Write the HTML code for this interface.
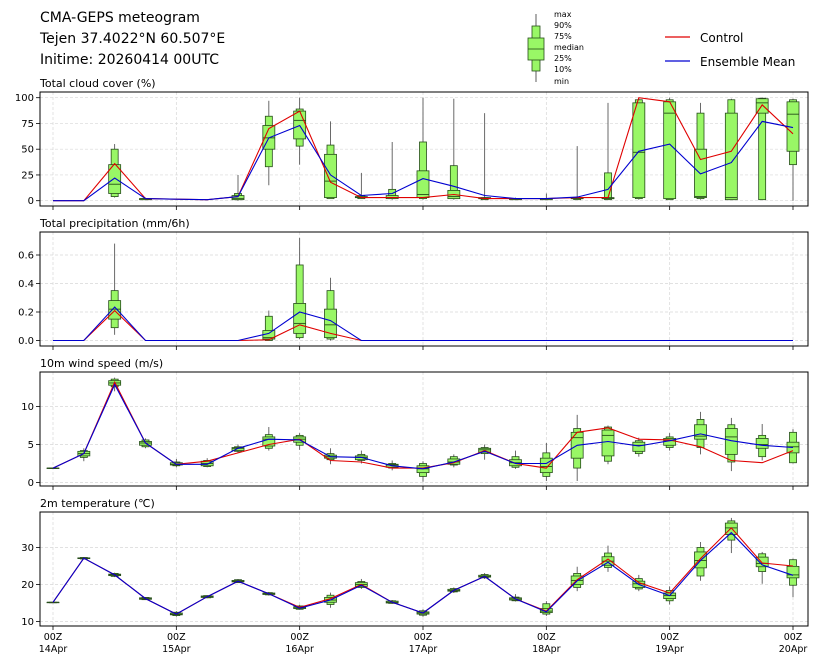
<!DOCTYPE html>
<html><head><meta charset="utf-8"><style>
body{margin:0;background:#fff;}
svg text{font-family:"DejaVu Sans","Liberation Sans",sans-serif;}
</style></head><body>
<svg id="chart" width="818" height="667" viewBox="0 0 818 667" xmlns="http://www.w3.org/2000/svg">
<text x="40" y="22" font-size="14">CMA-GEPS meteogram</text>
<text x="40" y="43" font-size="14">Tejen 37.4022°N 60.507°E</text>
<text x="40" y="64" font-size="14">Initime: 20260414 00UTC</text>
<g>
<line x1="536" y1="14" x2="536" y2="82" stroke="#333" stroke-width="0.8"/>
<rect x="532" y="26" width="8" height="45" fill="#99f766" stroke="#264d1a" stroke-width="0.8"/>
<rect x="528" y="38" width="16" height="22" fill="#99f766" stroke="#264d1a" stroke-width="0.8"/>
<line x1="528" y1="49" x2="544" y2="49" stroke="#264d1a" stroke-width="0.8"/>
<g font-size="8"><text x="554" y="17">max</text><text x="554" y="28">90%</text><text x="554" y="39">75%</text><text x="554" y="50">median</text><text x="554" y="61">25%</text><text x="554" y="72">10%</text><text x="554" y="84">min</text></g>
</g>
<g><line x1="665" y1="37" x2="690" y2="37" stroke="#e00000" stroke-width="1.2"/><text x="700" y="42" font-size="12">Control</text></g>
<g><line x1="665" y1="61" x2="690" y2="61" stroke="#0000d0" stroke-width="1.2"/><text x="700" y="66" font-size="12">Ensemble Mean</text></g>
<g id="panels"></g>
</svg>
<script>
const hours=[0,6,12,18,24,30,36,42,48,54,60,66,72,78,84,90,96,102,108,114,120,126,132,138,144];
const dayLabels=["14Apr","15Apr","16Apr","17Apr","18Apr","19Apr","20Apr"];
const cloudCtrl=[0,0,36,2,1.5,1,4,70,87,18,3,3,3,6,2,2,2,3,3,100,96,40,48,93,65];
const cloudMean=[0,0,22,2,1.5,1,4,61,73,25,5,7,21.5,14,5,2,2,3.5,11,48,55,26,37,77,71];
const cloudBoxes=[null,null,[3,4,7,16,35,50,55],[1,1,1,2,2,2,3],null,null,[0,1,1,2,5,7,25],[15,33,50,61,73,82,97],[35,53,60,78,87,89,100],[2,2,3,19,45,54,77],[2,2,3,3,4,5,27],[1,2,2,3,5,11,57],[1,2,3,6,29,57,100],[1,2,2,4,10,34,99],[1,1,2,2,3,3,85],[1,1,1,2,2,2,3],[1,1,1,2,2,2,7],[1,1,2,2,3,3,53],[1,1,2,2,3,27,95],[1,2,3,47,95,98,100],[1,1,2,85,96,98,100],[1,2,3,4,50,85,95],[1,1,1,3,85,98,99],[1,1,85,95,99,99.5,100],[0,35,48,84,96,98,99]];
const precCtrl=[0,0,0.21,0,0,0,0,0.005,0.11,0.05,0,0,0,0,0,0,0,0,0,0,0,0,0,0,0];
const precMean=[0,0,0.235,0,0,0,0,0.05,0.20,0.14,0,0,0,0,0,0,0,0,0,0,0,0,0,0,0];
const precBoxes=[null,null,[0.04,0.09,0.15,0.22,0.28,0.35,0.68],null,null,null,null,[0,0,0.01,0.02,0.07,0.17,0.21],[0.01,0.02,0.05,0.12,0.26,0.53,0.72],[0,0.01,0.02,0.11,0.22,0.35,0.44],null,null,null,null,null,null,null,null,null,null,null,null,null,null,null];
const windCtrl=[1.9,3.8,13.2,5.2,2.4,2.8,3.9,5.0,5.7,2.9,2.7,1.9,1.9,2.6,4.2,2.5,1.9,6.6,7.2,5.7,5.6,4.7,2.9,2.6,4.2];
const windMean=[1.9,3.8,12.9,5.2,2.4,2.4,4.5,5.7,5.6,3.4,3.3,2.2,1.8,2.7,4.1,2.5,2.5,4.9,5.4,4.8,5.5,6.4,5.5,4.9,4.6];
const windBoxes=[[1.9,1.9,1.9,1.9,1.9,1.9,1.9],[2.8,3.3,3.5,3.8,4.1,4.2,4.5],[12,12.6,12.8,13.1,13.4,13.6,13.8],[4.5,4.7,4.9,5.2,5.4,5.6,5.8],[2.0,2.2,2.3,2.4,2.6,2.7,3.1],[2.0,2.1,2.2,2.5,2.8,2.9,3.2],[3.9,4.1,4.2,4.5,4.6,4.7,5.0],[4.2,4.5,4.8,5.7,6.0,6.3,7.3],[4.3,4.9,5.3,5.7,6.0,6.2,6.5],[2.4,3.0,3.2,3.4,3.6,3.8,4.5],[2.5,2.9,3.0,3.3,3.5,3.7,4.2],[1.6,1.9,2.0,2.3,2.4,2.5,2.9],[0.1,0.8,1.3,1.8,2.2,2.5,2.8],[2.0,2.3,2.4,2.7,3.1,3.4,3.7],[3.0,3.8,4.0,4.3,4.5,4.6,5.0],[1.8,2.0,2.2,2.6,3.0,3.4,4.2],[0.2,0.8,1.3,2.1,3.2,3.9,5.2],[0.2,1.9,3.2,5.9,6.6,7.1,8.9],[2.4,2.8,3.5,6.2,6.9,7.3,7.5],[3.4,3.8,4.1,4.9,5.3,5.5,5.9],[4.2,4.6,4.9,5.5,5.8,6.0,6.5],[3.7,4.6,5.7,6.1,7.6,8.3,9.3],[1.5,2.7,3.7,6.0,7.1,7.6,8.5],[2.9,3.4,4.5,5.0,5.8,6.2,7.7],[2.5,2.6,3.9,4.7,5.3,6.6,7.0]];
const tempCtrl=[15.2,27.1,22.6,16.2,12.0,16.7,20.9,17.5,13.8,16.2,20.0,15.2,12.3,18.4,22.2,16.1,12.8,21.3,26.9,20.5,17.7,27.0,35.3,25.8,25.0];
const tempMean=[15.2,27.1,22.6,16.2,12.0,16.7,20.9,17.5,13.6,15.8,19.8,15.2,12.3,18.4,22.2,16.1,12.6,21.0,26.0,20.0,17.0,26.5,34.0,25.3,22.5];
const tempBoxes=[[15.2,15.2,15.2,15.2,15.2,15.2,15.2],[26.8,26.9,27.0,27.1,27.2,27.3,27.4],[22.0,22.2,22.4,22.6,22.8,23.0,23.2],[15.8,15.9,16.0,16.2,16.4,16.5,16.6],[11.3,11.6,11.8,12.0,12.3,12.5,12.8],[16.3,16.4,16.5,16.7,16.9,17.0,17.1],[20.4,20.5,20.7,20.9,21.1,21.3,21.5],[17.0,17.2,17.3,17.5,17.7,17.8,18.0],[13.2,13.3,13.5,13.7,14.0,14.2,14.5],[13.7,14.6,15.2,15.8,16.5,17.1,17.8],[18.8,19.2,19.5,20.0,20.5,20.8,21.5],[14.8,14.9,15.0,15.2,15.5,15.6,15.8],[11.3,11.7,12.0,12.3,12.6,12.9,13.3],[17.7,18.0,18.2,18.4,18.7,18.9,19.2],[21.5,21.8,22.0,22.2,22.5,22.7,23.1],[15.4,15.6,15.8,16.1,16.4,16.6,17.4],[11.5,12.0,12.4,12.8,13.5,14.8,15.5],[18.2,19.2,20.0,21.1,22.3,23.0,24.8],[23.4,24.6,25.2,26.3,27.5,28.5,30.5],[18.2,18.8,19.2,20.2,20.9,21.6,22.6],[14.6,15.6,16.2,17.0,17.7,18.4,19.5],[21.0,22.3,24.5,26.5,28.8,30.0,31.5],[28.5,32.0,33.5,35.3,36.6,37.2,38.0],[20.2,23.5,24.8,25.7,27.4,28.3,28.8],[16.6,19.8,21.8,22.6,24.9,26.7,27.0]];
const cloudTicks=[0,25,50,75,100];
const precTicks=[0.0,0.2,0.4,0.6];
const windTicks=[0,5,10];
const tempTicks=[10,20,30];

const NS="http://www.w3.org/2000/svg";
const root=document.getElementById('panels');
function mk(tag,attrs,parent){const e=document.createElementNS(NS,tag);for(const k in attrs)e.setAttribute(k,attrs[k]);(parent||root).appendChild(e);return e;}
const X0=40,X1=808;
function xs(h){return 53+h*(740/144);}
const panels=[
 {name:'cloud',title:'Total cloud cover (%)',top:92,bot:206,v0:0,p0:200.7,v1:100,p1:97.7,ticks:cloudTicks,fmt:v=>String(v),ctrl:cloudCtrl,mean:cloudMean,boxes:cloudBoxes},
 {name:'precip',title:'Total precipitation (mm/6h)',top:232,bot:346,v0:0,p0:340.5,v1:0.6,p1:255,ticks:precTicks,fmt:v=>v.toFixed(1),ctrl:precCtrl,mean:precMean,boxes:precBoxes},
 {name:'wind',title:'10m wind speed (m/s)',top:372,bot:486,v0:0,p0:482.5,v1:10,p1:406.5,ticks:windTicks,fmt:v=>String(v),ctrl:windCtrl,mean:windMean,boxes:windBoxes},
 {name:'temp',title:'2m temperature (℃)',top:512,bot:626,v0:10,p0:621.5,v1:30,p1:547.5,ticks:tempTicks,fmt:v=>String(v),ctrl:tempCtrl,mean:tempMean,boxes:tempBoxes}
];
panels.forEach((p,pi)=>{
 const g=mk('g',{});
 
 
 const ys=v=>p.p0+(v-p.v0)*(p.p1-p.p0)/(p.v1-p.v0);
 const t=mk('text',{x:40,y:p.top-5,'font-size':11},g);t.textContent=p.title;
 
 
 for(let d=0;d<7;d++){const x=xs(d*24);mk('line',{x1:x,x2:x,y1:p.top,y2:p.bot,stroke:'#d8d8d8','stroke-width':0.7,'stroke-dasharray':'3,2'},g);
  mk('line',{x1:x,x2:x,y1:p.bot,y2:p.bot+4,stroke:'#000','stroke-width':0.8},g);
  if(pi===3){const l1=mk('text',{x:x,y:640,'font-size':9.5,'text-anchor':'middle'},g);l1.textContent='00Z';
   
   
   const l2=mk('text',{x:x,y:652,'font-size':9.5,'text-anchor':'middle'},g);l2.textContent=dayLabels[d];}}
 p.ticks.forEach(v=>{const y=ys(v);mk('line',{x1:X0,x2:X1,y1:y,y2:y,stroke:'#d8d8d8','stroke-width':0.7,'stroke-dasharray':'3,2'},g);
  mk('line',{x1:X0-4,x2:X0,y1:y,y2:y,stroke:'#000','stroke-width':0.8},g);
  const tl=mk('text',{x:X0-6,y:y+3.5,'font-size':10,'text-anchor':'end'},g);tl.textContent=p.fmt(v);
  
  });
 p.boxes.forEach((b,i)=>{if(!b)return;const x=xs(hours[i]);
  const bg=mk('g',{},g);
  
  
  mk('line',{x1:x,x2:x,y1:ys(b[6]),y2:ys(b[0]),stroke:'#444','stroke-width':0.8},bg);
  mk('rect',{x:x-3.5,y:ys(b[5]),width:7,height:Math.max(0.5,ys(b[1])-ys(b[5])),fill:'#99f766',stroke:'#264d1a','stroke-width':0.8},bg);
  mk('rect',{x:x-6,y:ys(b[4]),width:12,height:Math.max(0.5,ys(b[2])-ys(b[4])),fill:'#99f766',stroke:'#264d1a','stroke-width':0.8},bg);
  mk('line',{x1:x-6,x2:x+6,y1:ys(b[3]),y2:ys(b[3]),stroke:'#264d1a','stroke-width':0.9},bg);
 });
 const pts=a=>a.map((v,i)=>xs(hours[i]).toFixed(1)+','+ys(v).toFixed(1)).join(' ');
 const lc=mk('polyline',{points:pts(p.ctrl),fill:'none',stroke:'#e00000','stroke-width':1.1},g);
 
 
 const lm=mk('polyline',{points:pts(p.mean),fill:'none',stroke:'#0000d0','stroke-width':1.1},g);
 
 
 mk('rect',{x:X0,y:p.top,width:X1-X0,height:p.bot-p.top,fill:'none',stroke:'#000','stroke-width':1},g);
});
</script>
</body></html>
